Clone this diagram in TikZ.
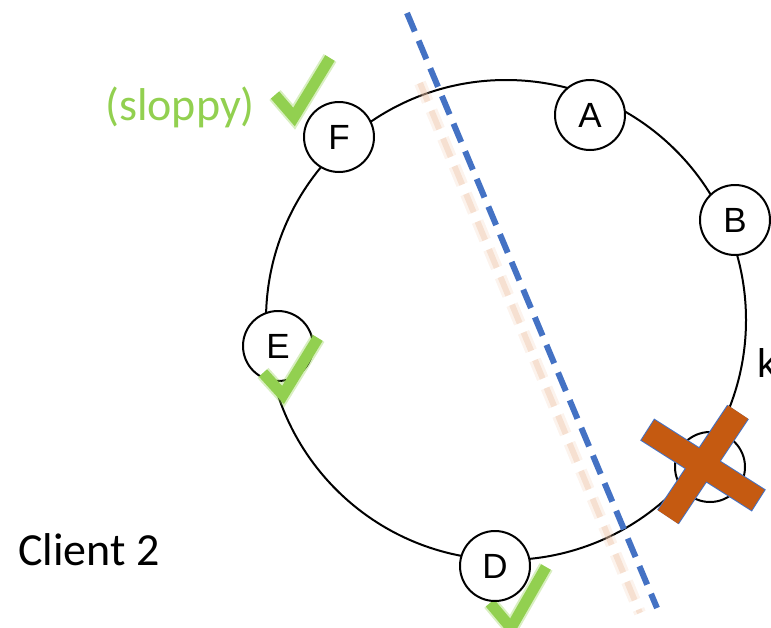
\documentclass[tikz,border=0pt]{standalone}
\usepackage{fontspec}
\setmainfont{Liberation Sans}
\newfontfamily\calibri{Carlito}
\usetikzlibrary{positioning}
\definecolor{tickgreen}{RGB}{146,208,80}
\definecolor{cutblue}{RGB}{68,114,196}
\definecolor{failorange}{RGB}{197,90,17}
\definecolor{shadeorange}{RGB}{238,196,166}

\begin{document}
\begin{tikzpicture}
    [
        x=1pt, y=-1pt,
        ring_node/.style={circle, draw=black, fill=white, line width=2pt, minimum size=70pt, inner sep=0pt, font=\fontsize{35}{35}\selectfont},
        tick_glow/.style={draw=tickgreen, line width=15pt, opacity=0.35},
        tick_mark/.style={draw=tickgreen, line width=11pt},
        cut_line/.style={draw=cutblue, line width=6pt, dash pattern=on 20pt off 10pt},
        cut_shade/.style={draw=shadeorange, dash pattern=on 20pt off 10pt},
        big_text/.style={anchor=base west, inner sep=0pt, font=\calibri\fontsize{46}{46}\selectfont},
    ]
        \useasboundingbox (0,0) rectangle (771,627);
        % the ring
        \coordinate (centre) at (506,320);
        \draw[line width=2pt] (centre) circle [radius=240];
        % faint shadow of the cut, then the cut itself
        \coordinate (shade_top) at (420,83);
        \coordinate (shade_bot) at (640,613);
        \draw[cut_shade, line width=12pt, opacity=0.2] (shade_top) -- (shade_bot);
        \draw[cut_shade, line width=6pt, opacity=0.4] (shade_top) -- (shade_bot);
        \coordinate (cut_top) at (407,13);
        \coordinate (cut_bot) at (657,608);
        \draw[cut_line] (cut_top) -- (cut_bot);
        % tick below D
        \draw[tick_glow] (490,603) -- (511,628) -- (546,567);
        \draw[tick_mark] (490,603) -- (511,628) -- (546,567);
        % the nodes on the ring
        \node[ring_node] (A) at (590,115) {A};
        \node[ring_node] (B) at (735,220) {B};
        \node[ring_node] (C) at (710,467) {C};
        \node[ring_node] (D) at (495,566) {D};
        \node[ring_node] (E) at (278,346) {E};
        \node[ring_node] (F) at (339,137) {F};
        % ticks for F and E
        \draw[tick_glow] (275,95) -- (294,117) -- (330,58);
        \draw[tick_mark] (275,95) -- (294,117) -- (330,58);
        \draw[tick_glow] (263,373) -- (283,395) -- (318,338);
        \draw[tick_mark] (263,373) -- (283,395) -- (318,338);
        % cross over C
        \coordinate (x1a) at (668,517);
        \coordinate (x1b) at (738,412);
        \coordinate (x2a) at (648,430);
        \coordinate (x2b) at (758,500);
        \draw[cutblue, line width=26pt, shorten <=-1pt, shorten >=-1pt] (x1a) -- (x1b) (x2a) -- (x2b);
        \draw[failorange, line width=24pt] (x1a) -- (x1b) (x2a) -- (x2b);
        % texts
        \node[big_text, text=tickgreen] (sloppy) at (105,120) {(sloppy)};
        \node[big_text] (client) at (18,565) {Client 2};
        \node[anchor=base west, inner sep=0pt, font=\fontsize{40}{40}\selectfont] (key) at (757,377) {k};
    \end{tikzpicture}
\end{document}
